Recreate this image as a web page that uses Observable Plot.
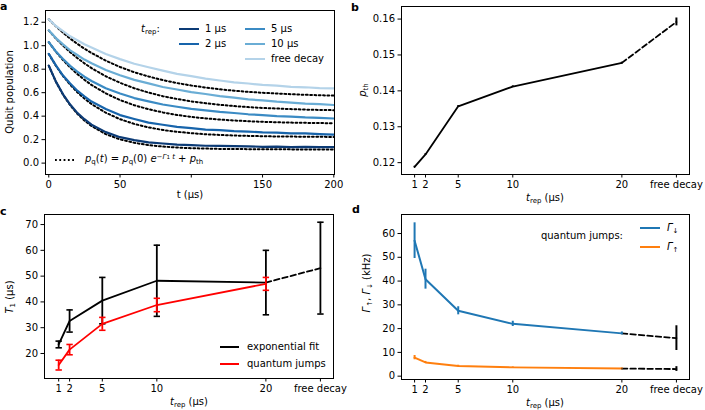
<!DOCTYPE html>
<html><head><meta charset="utf-8">
<script src="https://cdn.jsdelivr.net/npm/d3@7"></script>
<script src="https://cdn.jsdelivr.net/npm/@observablehq/plot@0.6"></script>
<style>
body{margin:0;background:#fff;font-family:"DejaVu Sans",sans-serif;}
#fig{position:relative;width:705px;height:410px;overflow:hidden;background:#fff}
.lbl{position:absolute;white-space:nowrap;line-height:1;color:#000;font-family:"DejaVu Sans",sans-serif}
.sb{font-size:70%;position:relative;top:0.3em}
.sp{font-size:70%;position:relative;top:-0.5em}
i{font-style:italic}
</style></head><body><div id="fig"></div>
<script>
// ---------- Panel a data ----------
const tGrid = [0,5,10,15,20,25,30,40,50,60,70,80,90,100,110,120,130,140,150,160,170,180,190,200];
const tTicks = [0,50,100,150,200];
const popTicks = [0,0.2,0.4,0.6,0.8,1.0,1.2];
const seriesNames = ["1 μs","2 μs","5 μs","10 μs","free decay"];
const blueShades = ["#0c3b76","#1764ab","#3b8bc4","#6aadd5","#b4d3e9"];
const pop1us = [0.830,0.694,0.586,0.499,0.428,0.374,0.327,0.264,0.221,0.196,0.176,0.167,0.157,0.153,0.148,0.147,0.144,0.143,0.139,0.140,0.137,0.138,0.136,0.136];
const pop2us = [0.931,0.832,0.746,0.679,0.617,0.569,0.524,0.461,0.409,0.376,0.345,0.327,0.309,0.298,0.286,0.281,0.272,0.269,0.262,0.260,0.254,0.253,0.247,0.243];
const pop5us = [1.031,0.951,0.887,0.828,0.780,0.736,0.700,0.638,0.593,0.554,0.526,0.499,0.480,0.462,0.450,0.436,0.427,0.416,0.409,0.400,0.396,0.389,0.386,0.380];
const pop10us = [1.131,1.065,1.011,0.961,0.921,0.882,0.850,0.793,0.749,0.709,0.679,0.648,0.627,0.605,0.589,0.571,0.558,0.543,0.534,0.523,0.516,0.506,0.502,0.495];
const popFree = [1.226,1.168,1.124,1.080,1.047,1.012,0.984,0.929,0.886,0.846,0.817,0.788,0.760,0.741,0.720,0.704,0.688,0.678,0.666,0.660,0.650,0.646,0.639,0.637];
const fit1us = [0.830,0.693,0.583,0.493,0.421,0.363,0.316,0.247,0.202,0.173,0.153,0.141,0.133,0.127,0.124,0.121,0.120,0.119,0.118,0.118,0.117,0.117,0.117,0.117];
const fit2us = [0.930,0.829,0.742,0.668,0.604,0.550,0.503,0.429,0.374,0.334,0.304,0.282,0.267,0.255,0.246,0.240,0.235,0.232,0.229,0.227,0.226,0.225,0.224,0.223];
const fit5us = [1.030,0.949,0.878,0.815,0.759,0.710,0.666,0.594,0.537,0.493,0.459,0.432,0.410,0.394,0.381,0.371,0.363,0.357,0.352,0.348,0.345,0.343,0.341,0.340];
const fit10us = [1.130,1.062,1.000,0.945,0.895,0.850,0.809,0.740,0.684,0.638,0.601,0.570,0.546,0.526,0.510,0.497,0.486,0.477,0.470,0.465,0.460,0.456,0.453,0.451];
const fitFree = [1.225,1.165,1.111,1.061,1.016,0.975,0.938,0.873,0.819,0.774,0.738,0.707,0.682,0.661,0.644,0.629,0.617,0.607,0.599,0.593,0.587,0.582,0.578,0.575];

// ---------- Panels b, c, d data ----------
const trepPos = [1,2,5,10,20,25];
const trepTickLabels = ["1","2","5","10","20","free decay"];
const pth = [0.1188,0.1223,0.1357,0.1412,0.1478,0.1592];
const pthErr = [0.0002,0.0002,0.0002,0.0002,0.0002,0.0011];
const pthTicks = [0.12,0.13,0.14,0.15,0.16];
const t1Fit = [23.5,32.6,40.5,48.2,47.5,53.1];
const t1FitErr = [1.3,4.3,9.0,13.8,12.5,17.8];
const t1QJ = [15.5,21.5,31.5,38.8,47.0];
const t1QJErr = [1.9,2.0,2.5,2.6,2.5];
const t1Ticks = [20,30,40,50,60,70];
const gammaDown = [57.0,40.8,27.5,22.0,18.0,16.0];
const gammaDownErr = [7.5,4.2,1.7,1.1,0.6,5.2];
const gammaUp = [7.8,5.8,4.3,3.7,3.2,3.0];
const gammaUpErr = [0.9,0.4,0.3,0.2,0.2,1.0];
const gammaTicks = [0,10,20,30,40,50,60];

// ---------- helpers ----------
const fig = document.getElementById("fig");
const baseStyle = {fontFamily:'"DejaVu Sans", sans-serif', fontSize:"10px", color:"#000", background:"transparent", overflow:"visible"};
function place(node, left, top){ node.style.position="absolute"; node.style.left=left+"px"; node.style.top=top+"px"; fig.appendChild(node); }
function label(html, x, y, {anchor="middle", rotate=false, size=10, bold=false}={}){
  const d = document.createElement("div");
  d.className = "lbl"; d.innerHTML = html;
  d.style.left = x+"px"; d.style.top = y+"px"; d.style.fontSize = size+"px";
  if (bold) d.style.fontWeight = "bold";
  const tx = anchor==="start" ? "0" : anchor==="end" ? "-100%" : "-50%";
  d.style.transform = `translate(${tx},-50%)` + (rotate ? " rotate(-90deg)" : "");
  fig.appendChild(d);
}
function legendLine(x1, x2, y, color, width=2, dash=null){
  const ns = "http://www.w3.org/2000/svg";
  const s = document.createElementNS(ns,"svg");
  s.setAttribute("width", x2-x1); s.setAttribute("height", 8);
  s.style.position="absolute"; s.style.left=x1+"px"; s.style.top=(y-4)+"px";
  const l = document.createElementNS(ns,"line");
  l.setAttribute("x1",0); l.setAttribute("x2",x2-x1); l.setAttribute("y1",4); l.setAttribute("y2",4);
  l.setAttribute("stroke",color); l.setAttribute("stroke-width",width);
  if (dash) l.setAttribute("stroke-dasharray",dash);
  s.appendChild(l); fig.appendChild(s);
}
const capSymbol = {draw(ctx, size){ const r = Math.sqrt(size/Math.PI); ctx.moveTo(-r,0); ctx.lineTo(r,0); }};
const trepFmt = d => trepTickLabels[trepPos.indexOf(d)];
const trepLabel = '<i>t</i><span class="sb">rep</span> (μs)';

// ---------- Panel a ----------
const popSeries = [pop1us,pop2us,pop5us,pop10us,popFree];
const fitSeries = [fit1us,fit2us,fit5us,fit10us,fitFree];
const dataRows = popSeries.flatMap((arr,i)=>arr.map((v,j)=>({t:tGrid[j], v, s:seriesNames[i]})));
const fitRows = fitSeries.flatMap((arr,i)=>arr.map((v,j)=>({t:tGrid[j], v, s:seriesNames[i]})));
const plotA = Plot.plot({
  width:352, height:205, marginLeft:45, marginRight:18, marginTop:10, marginBottom:31,
  style: baseStyle,
  x:{domain:[-2.3,200.5]}, y:{domain:[-0.097,1.30]},
  color:{domain:seriesNames, range:blueShades},
  marks:[
    Plot.axisX({ticks:tTicks, tickFormat:d=> d===100 ? "" : String(d), tickSize:3.5, tickPadding:3, label:null}),
    Plot.axisY({ticks:popTicks, tickFormat:d=>d.toFixed(1), tickSize:3.5, tickPadding:3, label:null}),
    Plot.line(fitRows,{x:"t", y:"v", z:"s", stroke:"black", strokeWidth:2, strokeDasharray:"1.8,2.5"}),
    Plot.line(dataRows,{x:"t", y:"v", z:"s", stroke:"s", strokeWidth:2.2}),
    Plot.frame({stroke:"black", strokeWidth:1})
  ]
});
place(plotA, 0, 0);

// ---------- Panel b ----------
const pthRows = trepPos.map((x,i)=>({x, y:pth[i], lo:pth[i]-pthErr[i], hi:pth[i]+pthErr[i]}));
const plotB = Plot.plot({
  width:353, height:205, marginLeft:49, marginRight:16, marginTop:6, marginBottom:31,
  style: baseStyle,
  x:{domain:[-0.2,26.2]}, y:{domain:[0.1167,0.1635]},
  marks:[
    Plot.axisX({ticks:trepPos, tickFormat:trepFmt, tickSize:3.5, tickPadding:3, label:null}),
    Plot.axisY({ticks:pthTicks, tickFormat:d=>d.toFixed(2), tickSize:3.5, tickPadding:3, label:null}),
    Plot.line(pthRows.slice(0,5),{x:"x", y:"y", stroke:"black", strokeWidth:1.8}),
    Plot.line(pthRows.slice(4),{x:"x", y:"y", stroke:"black", strokeWidth:1.8, strokeDasharray:"5.5,3"}),
    Plot.ruleX(pthRows,{x:"x", y1:"lo", y2:"hi", stroke:"black", strokeWidth:2}),
    Plot.frame({stroke:"black", strokeWidth:1})
  ]
});
place(plotB, 352, 0);

// ---------- Panel c ----------
const fitRowsC = trepPos.map((x,i)=>({x, y:t1Fit[i], lo:t1Fit[i]-t1FitErr[i], hi:t1Fit[i]+t1FitErr[i]}));
const qjRowsC = t1QJ.map((v,i)=>({x:trepPos[i], y:v, lo:v-t1QJErr[i], hi:v+t1QJErr[i]}));
const plotC = Plot.plot({
  width:352, height:205, marginLeft:44, marginRight:19, marginTop:9, marginBottom:32,
  style: baseStyle,
  x:{domain:[-0.3,26.2]}, y:{domain:[10.3,73.9]},
  marks:[
    Plot.axisX({ticks:trepPos, tickFormat:trepFmt, tickSize:3.5, tickPadding:3, label:null}),
    Plot.axisY({ticks:t1Ticks, tickSize:3.5, tickPadding:3, label:null}),
    Plot.line(fitRowsC.slice(0,5),{x:"x", y:"y", stroke:"black", strokeWidth:1.8}),
    Plot.line(fitRowsC.slice(4),{x:"x", y:"y", stroke:"black", strokeWidth:1.8, strokeDasharray:"5.5,3"}),
    Plot.ruleX(fitRowsC,{x:"x", y1:"lo", y2:"hi", stroke:"black", strokeWidth:1.8}),
    Plot.dot(fitRowsC,{x:"x", y:"lo", symbol:capSymbol, r:3.2, stroke:"black", strokeWidth:1.6, fill:"none"}),
    Plot.dot(fitRowsC,{x:"x", y:"hi", symbol:capSymbol, r:3.2, stroke:"black", strokeWidth:1.6, fill:"none"}),
    Plot.line(qjRowsC,{x:"x", y:"y", stroke:"#ff0000", strokeWidth:1.8}),
    Plot.ruleX(qjRowsC,{x:"x", y1:"lo", y2:"hi", stroke:"#ff0000", strokeWidth:1.8}),
    Plot.dot(qjRowsC,{x:"x", y:"lo", symbol:capSymbol, r:3.2, stroke:"#ff0000", strokeWidth:1.6, fill:"none"}),
    Plot.dot(qjRowsC,{x:"x", y:"hi", symbol:capSymbol, r:3.2, stroke:"#ff0000", strokeWidth:1.6, fill:"none"}),
    Plot.frame({stroke:"black", strokeWidth:1})
  ]
});
place(plotC, 0, 205);

// ---------- Panel d ----------
const downRows = trepPos.map((x,i)=>({x, y:gammaDown[i], lo:gammaDown[i]-gammaDownErr[i], hi:gammaDown[i]+gammaDownErr[i]}));
const upRows = trepPos.map((x,i)=>({x, y:gammaUp[i], lo:gammaUp[i]-gammaUpErr[i], hi:gammaUp[i]+gammaUpErr[i]}));
const plotD = Plot.plot({
  width:353, height:205, marginLeft:49, marginRight:16, marginTop:9, marginBottom:31,
  style: baseStyle,
  x:{domain:[-0.2,26.2]}, y:{domain:[-1.4,68]},
  marks:[
    Plot.axisX({ticks:trepPos, tickFormat:trepFmt, tickSize:3.5, tickPadding:3, label:null}),
    Plot.axisY({ticks:gammaTicks, tickSize:3.5, tickPadding:3, label:null}),
    Plot.line(downRows.slice(0,5),{x:"x", y:"y", stroke:"#1f77b4", strokeWidth:2}),
    Plot.line(downRows.slice(4),{x:"x", y:"y", stroke:"black", strokeWidth:1.8, strokeDasharray:"5.5,3"}),
    Plot.ruleX(downRows.slice(0,5),{x:"x", y1:"lo", y2:"hi", stroke:"#1f77b4", strokeWidth:2}),
    Plot.ruleX(downRows.slice(5),{x:"x", y1:"lo", y2:"hi", stroke:"black", strokeWidth:2}),
    Plot.line(upRows.slice(0,5),{x:"x", y:"y", stroke:"#ff7f0e", strokeWidth:2}),
    Plot.line(upRows.slice(4),{x:"x", y:"y", stroke:"black", strokeWidth:1.8, strokeDasharray:"5.5,3"}),
    Plot.ruleX(upRows.slice(0,5),{x:"x", y1:"lo", y2:"hi", stroke:"#ff7f0e", strokeWidth:2}),
    Plot.ruleX(upRows.slice(5),{x:"x", y1:"lo", y2:"hi", stroke:"black", strokeWidth:2}),
    Plot.frame({stroke:"black", strokeWidth:1})
  ]
});
place(plotD, 352, 205);

// ---------- text: panel letters, axis labels, legends ----------
label("a", 0, 6, {anchor:"start", size:11, bold:true});
label("b", 351, 7, {anchor:"start", size:11, bold:true});
label("c", 0, 211, {anchor:"start", size:11, bold:true});
label("d", 352, 209, {anchor:"start", size:11, bold:true});

label("Qubit population", 10, 92, {rotate:true});
label("t (μs)", 190, 195);
label('<i>p</i><span class="sb">th</span>', 363, 90, {rotate:true});
label(trepLabel, 545, 198);
label('<i>T</i><span class="sb">1</span> (μs)', 10, 297, {rotate:true});
label(trepLabel, 189, 402);
label('<i>Γ</i><span class="sb">↑</span>, <i>Γ</i><span class="sb">↓</span> (kHz)', 367, 283, {rotate:true});
label(trepLabel, 545, 403);

// panel a legend
label('<i>t</i><span class="sb">rep</span>:', 141, 29, {anchor:"start"});
[[0,179,29],[1,179,43.5],[2,245,29],[3,245,43.5],[4,245,58.5]].forEach(([i,x,y])=>{
  legendLine(x, x+20, y, blueShades[i], 2);
  label(seriesNames[i], x+26, y, {anchor:"start"});
});
legendLine(55, 75, 159.5, "black", 2, "1.8,2.5");
label('<i>p</i><span class="sb">q</span>(<i>t</i>) = <i>p</i><span class="sb">q</span>(0) <i>e</i><span class="sp">−<i>Γ</i><span style="font-size:80%">1</span> <i>t</i></span> + <i>p</i><span class="sb">th</span>', 85, 159, {anchor:"start"});

// panel c legend
legendLine(220, 239, 347, "black", 2);
label("exponential fit", 247, 347, {anchor:"start"});
legendLine(220, 239, 363.5, "#ff0000", 2);
label("quantum jumps", 247, 363.5, {anchor:"start"});

// panel d legend
label("quantum jumps:", 623, 236, {anchor:"end"});
legendLine(640, 660, 228, "#1f77b4", 2);
label('<i>Γ</i><span class="sb">↓</span>', 667, 228, {anchor:"start"});
legendLine(640, 660, 246.5, "#ff7f0e", 2);
label('<i>Γ</i><span class="sb">↑</span>', 667, 246.5, {anchor:"start"});
</script></body></html>
